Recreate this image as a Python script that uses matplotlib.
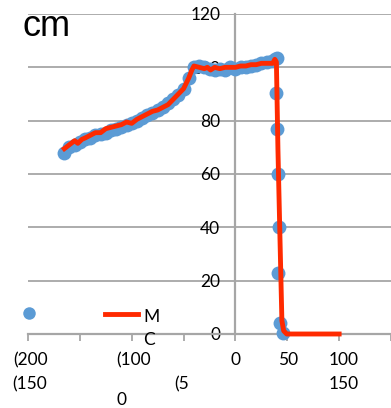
import matplotlib
matplotlib.use("Agg")
import matplotlib.pyplot as plt
from matplotlib.lines import Line2D

# measured points (blue)
pts_x = [-165, -160, -155, -150, -145, -140, -135, -130, -125, -120, -115, -110,
         -105, -100, -95, -90, -85, -80, -75, -70, -65, -60, -55, -50, -45, -40,
         -35, -30, -25, -20, -15, -10, -5, 0, 5, 10, 15, 20, 25, 30, 35, 38, 40,
         39.5, 40, 41, 42, 41.5, 43, 46]
pts_y = [68, 70, 71, 72, 73, 73.5, 74.5, 75, 75.5, 76.5, 77, 77.5,
         78.5, 79, 80, 81, 82, 83, 84, 85, 86.5, 88, 89.5, 92, 96, 100,
         100.5, 100, 99.5, 99, 99.5, 99, 100, 99.5, 100, 100, 100.5, 101, 101.5, 102, 102.5, 103, 103.5,
         90.5, 77, 60, 40, 23, 4, 0.5]

# MC curve (red)
mc_x = [-165, -160, -155, -152, -148, -145, -140, -135, -130, -125, -120, -115,
        -110, -105, -100, -95, -90, -85, -80, -75, -70, -65, -60, -55, -50, -45,
        -42, -40, -35, -30, -27, -24, -20, -15, -10, -5, 0, 5, 10, 15, 20, 25, 30,
        33, 36, 38, 39.5, 41, 43, 44.8, 46.5, 49.5, 100]
mc_y = [69.5, 71, 72.5, 71.5, 73, 73.5, 74.5, 75.5, 75.5, 77, 77.5, 78,
        78.5, 79.5, 79, 80.5, 81.5, 82.5, 83.5, 84, 85, 86, 88, 90, 92, 96,
        99, 100.5, 100, 99.5, 100, 99, 100, 99.5, 100, 100, 100, 100.5, 100.5, 101, 101, 101.5, 101.5,
        101.5, 101.5, 103, 102, 69, 35, 5, 1.2, 0, 0]

y_ticks = [0, 20, 40, 60, 80, 100, 120]
x_ticks = [-200, -150, -100, -50, 0, 50, 100, 150]

# category labels as they come out of the spreadsheet, wrapped
x_labels = ["(200", "(150", "(100", "(5", "0", "0", "50", "100", "150"]
x_label_pos = [(-198, 0), (-198, 1), (-98, 0), (-52, 1), (-110, 2), (0, 0), (51, 0), (104, 0), (104, 1)]

blue = "#5b9bd5"
red = "#ff2a00"
grey = "#a6a6a6"
tick_font = dict(fontfamily="Lato", fontsize=12.5)

fig = plt.figure(figsize=(3.91, 4.08), dpi=100)
ax = fig.add_axes([28 / 391, 74 / 408, 363 / 391, 320 / 408])
ax.set_xlim(-200, -200 + 363 / 1.055)
ax.set_ylim(0, 120)

ax.scatter(pts_x, pts_y, s=100, color=blue, linewidths=0, zorder=3, clip_on=False)
ax.plot(mc_x, mc_y, color=red, lw=3.5, zorder=4, solid_joinstyle="round", clip_on=False)

for s in ["top", "right"]:
    ax.spines[s].set_visible(False)
ax.spines["left"].set_position(("data", 0))
ax.spines["left"].set_color(grey)
ax.spines["left"].set_linewidth(1.6)
ax.spines["bottom"].set_color(grey)
ax.spines["bottom"].set_linewidth(1.6)

ax.set_yticks(y_ticks)
ax.set_yticklabels([str(v) for v in y_ticks], **tick_font)
ax.tick_params(axis="y", length=0, pad=11)
ax.yaxis.grid(True, color=grey, lw=1.3)
ax.set_axisbelow(True)

ax.set_xticks(x_ticks)
ax.set_xticklabels([])
ax.tick_params(axis="x", length=5, width=1.3, color=grey, direction="out")

row_y = [-0.081, -0.156, -0.205]
tr = ax.get_xaxis_transform()
for lab, (xv, row) in zip(x_labels, x_label_pos):
    ax.text(xv, row_y[row], lab, transform=tr, ha="center", va="center",
            clip_on=False, **tick_font)

# legend, drawn by hand
fig.add_artist(Line2D([29 / 391], [1 - 313 / 408], marker="o", markersize=9,
                      color=blue, markeredgewidth=0, linestyle="none"))
fig.add_artist(Line2D([105 / 391, 138 / 391], [1 - 314 / 408] * 2, color=red, lw=3.5))
fig.text(143 / 391, 1 - 317 / 408, "M", va="center", **tick_font)
fig.text(143 / 391, 1 - 340 / 408, "C", va="center", **tick_font)

fig.text(22 / 391, 1 - 26 / 408, "cm", fontfamily="Liberation Sans", fontsize=26, va="center")

fig.savefig("out.png", dpi=100)
